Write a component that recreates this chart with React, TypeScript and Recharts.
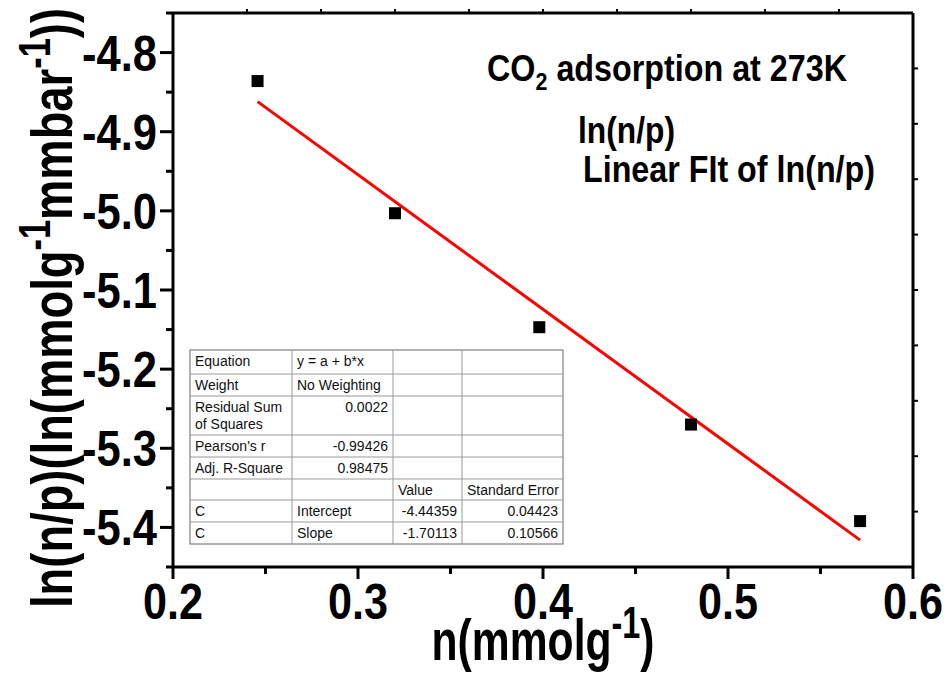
import React from 'react';
import { ScatterChart, Scatter, XAxis, YAxis } from 'recharts';

// Measured data: n (mmol/g) vs ln(n/p)
const nValues = [0.2457, 0.32, 0.398, 0.48, 0.5714];
const lnValues = [-4.836, -5.003, -5.147, -5.27, -5.392];

// Linear fit endpoints
const fitX = [0.2457, 0.5714];
const fitY = [-4.862, -5.416];

// Axis ticks
const xTicks = [0.2, 0.25, 0.3, 0.35, 0.4, 0.45, 0.5, 0.55, 0.6];
const yTicks = [-5.45, -5.4, -5.35, -5.3, -5.25, -5.2, -5.15, -5.1, -5.05, -5.0, -4.95, -4.9, -4.85, -4.8, -4.75];
const topTicks = [0.24, 0.28, 0.32, 0.36, 0.4, 0.44, 0.48, 0.52, 0.56];
const rightTicks = [-4.82, -4.89, -4.96, -5.03, -5.1, -5.17, -5.24, -5.31, -5.38];

// Fit result table
const tableCol1 = ['Equation', 'Weight', 'Residual Sum|of Squares', "Pearson's r", 'Adj. R-Square', '', 'C', 'C'];
const tableCol2 = ['y = a + b*x', 'No Weighting', '0.0022', '-0.99426', '0.98475', '', 'Intercept', 'Slope'];
const tableCol3 = ['', '', '', '', '', 'Value', '-4.44359', '-1.70113'];
const tableCol4 = ['', '', '', '', '', 'Standard Error', '0.04423', '0.10566'];

const points = nValues.map((x, i) => ({ x, y: lnValues[i] }));
const fitLine = fitX.map((x, i) => ({ x, y: fitY[i] }));

const FONT = "'Liberation Sans Narrow', 'Liberation Sans', Arial, sans-serif";
const TFONT = "'Liberation Sans', Arial, sans-serif";

const isMajor = (v: number) => Math.abs(v * 10 - Math.round(v * 10)) < 1e-6;

const BottomTick = (props: any) => {
  const { x, y, payload } = props;
  const v = payload.value;
  const major = isMajor(v);
  return (
    <g>
      <line x1={x} y1={y} x2={x} y2={y + (major ? 12 : 7)} stroke="#000" strokeWidth={3} />
      {major && (
        <text x={x} y={y + 52} textAnchor="middle" fontFamily={FONT} fontWeight="bold" fontSize={50} fill="#000" textLength={60} lengthAdjust="spacingAndGlyphs">
          {v.toFixed(1)}
        </text>
      )}
    </g>
  );
};

const LeftTick = (props: any) => {
  const { x, y, payload } = props;
  const v = payload.value;
  const major = isMajor(v);
  return (
    <g>
      <line x1={x} y1={y} x2={x - (major ? 13 : 7)} y2={y} stroke="#000" strokeWidth={3} />
      {major && (
        <text x={157} y={y + 18} textAnchor="end" fontFamily={FONT} fontWeight="bold" fontSize={50} fill="#000" textLength={75} lengthAdjust="spacingAndGlyphs">
          {v.toFixed(1)}
        </text>
      )}
    </g>
  );
};

const TopTick = (props: any) => {
  const { x, y } = props;
  return <line x1={x} y1={y} x2={x} y2={y - 4} stroke="#000" strokeWidth={2} />;
};

const RightTick = (props: any) => {
  const { x, y } = props;
  return <line x1={x} y1={y} x2={x + 5} y2={y} stroke="#000" strokeWidth={2} />;
};

const Square = (props: any) => {
  const { cx, cy } = props;
  if (cx == null || cy == null) return <g />;
  return <rect x={cx - 6} y={cy - 6} width={12} height={12} fill="#000" />;
};

const Nothing = () => <g />;

const rowEdges = [350, 374, 396, 435, 457, 479, 500, 522, 544];
const colEdges = [190, 292, 393, 462, 563];

const FitTable = () => {
  const cols = [tableCol1, tableCol2, tableCol3, tableCol4];
  const cells: React.ReactNode[] = [];
  cols.forEach((col, ci) => {
    col.forEach((txt, ri) => {
      if (!txt) return;
      const top = rowEdges[ri];
      const numeric = /^-?\d/.test(txt) && ci > 0;
      const lines = txt.split('|');
      lines.forEach((ln, li) => {
        cells.push(
          <text
            key={`${ci}-${ri}-${li}`}
            x={numeric ? colEdges[ci + 1] - 5 : colEdges[ci] + 5}
            y={top + 16 + li * 17}
            textAnchor={numeric ? 'end' : 'start'}
            fontFamily={TFONT}
            fontSize={14}
            fill="#111"
          >
            {ln}
          </text>
        );
      });
    });
  });
  return (
    <g>
      <rect x={colEdges[0]} y={rowEdges[0]} width={colEdges[4] - colEdges[0]} height={rowEdges[8] - rowEdges[0]} fill="#fff" stroke="#666" strokeWidth={1} />
      {rowEdges.slice(1, -1).map((ry, i) => (
        <line key={'r' + i} x1={colEdges[0]} x2={colEdges[4]} y1={ry} y2={ry} stroke="#999" strokeWidth={1} />
      ))}
      {colEdges.slice(1, -1).map((cx, i) => (
        <line key={'c' + i} x1={cx} x2={cx} y1={rowEdges[0]} y2={rowEdges[8]} stroke="#999" strokeWidth={1} />
      ))}
      {cells}
    </g>
  );
};

export default function App() {
  return (
    <div style={{ position: 'absolute', left: 0, top: 0, width: 949, height: 675, background: '#fff' }}>
      <ScatterChart width={949} height={675} margin={{ top: 12, right: 35, bottom: 0, left: 0 }}>
        <XAxis
          xAxisId="b"
          type="number"
          dataKey="x"
          domain={[0.2, 0.6]}
          ticks={xTicks}
          allowDataOverflow
          height={108}
          tickSize={0}
          tickMargin={0}
          tickLine={false}
          axisLine={{ stroke: '#000', strokeWidth: 3 }}
          tick={<BottomTick />}
          interval={0}
        />
        <XAxis
          xAxisId="t"
          orientation="top"
          type="number"
          dataKey="x"
          domain={[0.2, 0.6]}
          ticks={topTicks}
          allowDataOverflow
          height={1}
          tickSize={0}
          tickMargin={0}
          tickLine={false}
          axisLine={{ stroke: '#000', strokeWidth: 3 }}
          tick={<TopTick />}
          interval={0}
        />
        <YAxis
          yAxisId="l"
          type="number"
          dataKey="y"
          domain={[-5.45, -4.75]}
          ticks={yTicks}
          allowDataOverflow
          width={173}
          tickSize={0}
          tickMargin={0}
          tickLine={false}
          axisLine={{ stroke: '#000', strokeWidth: 3 }}
          tick={<LeftTick />}
          interval={0}
        />
        <YAxis
          yAxisId="r"
          orientation="right"
          type="number"
          dataKey="y"
          domain={[-5.45, -4.75]}
          ticks={rightTicks}
          allowDataOverflow
          width={1}
          tickSize={0}
          tickMargin={0}
          tickLine={false}
          axisLine={{ stroke: '#000', strokeWidth: 3 }}
          tick={<RightTick />}
          interval={0}
        />
        <Scatter
          xAxisId="b"
          yAxisId="l"
          data={fitLine}
          line={{ stroke: '#ff0000', strokeWidth: 3 }}
          shape={<Nothing />}
          isAnimationActive={false}
        />
        <Scatter xAxisId="b" yAxisId="l" data={points} shape={<Square />} isAnimationActive={false} />
      </ScatterChart>
      <svg width={949} height={675} style={{ position: 'absolute', left: 0, top: 0, pointerEvents: 'none' }}>
        <FitTable />
        <text x={487} y={81} fontFamily={FONT} fontWeight="bold" fontSize={36} fill="#000" textLength={360} lengthAdjust="spacingAndGlyphs">
          CO<tspan fontSize={24} dy={9}>2</tspan>
          <tspan dy={-9}> adsorption at 273K</tspan>
        </text>
        <text x={578} y={143} fontFamily={FONT} fontWeight="bold" fontSize={36} fill="#000" textLength={97} lengthAdjust="spacingAndGlyphs">
          ln(n/p)
        </text>
        <text x={583} y={182} fontFamily={FONT} fontWeight="bold" fontSize={36} fill="#000" textLength={292} lengthAdjust="spacingAndGlyphs">
          Linear FIt of ln(n/p)
        </text>
        <text x={543} y={660} textAnchor="middle" fontFamily={FONT} fontWeight="bold" fontSize={58} fill="#000" textLength={223} lengthAdjust="spacingAndGlyphs">
          n(mmolg<tspan fontSize={44} dy={-22}>-1</tspan>
          <tspan dy={22}>)</tspan>
        </text>
        <text x={0} y={0} transform="translate(72,308) rotate(-90)" textAnchor="middle" fontFamily={FONT} fontWeight="bold" fontSize={58} fill="#000" textLength={600} lengthAdjust="spacingAndGlyphs">
          ln(n/p)(ln(mmolg<tspan fontSize={44} dy={-22}>-1</tspan>
          <tspan dy={22}>mmbar</tspan>
          <tspan fontSize={44} dy={-22}>-1</tspan>
          <tspan dy={22}>))</tspan>
        </text>
      </svg>
    </div>
  );
}
